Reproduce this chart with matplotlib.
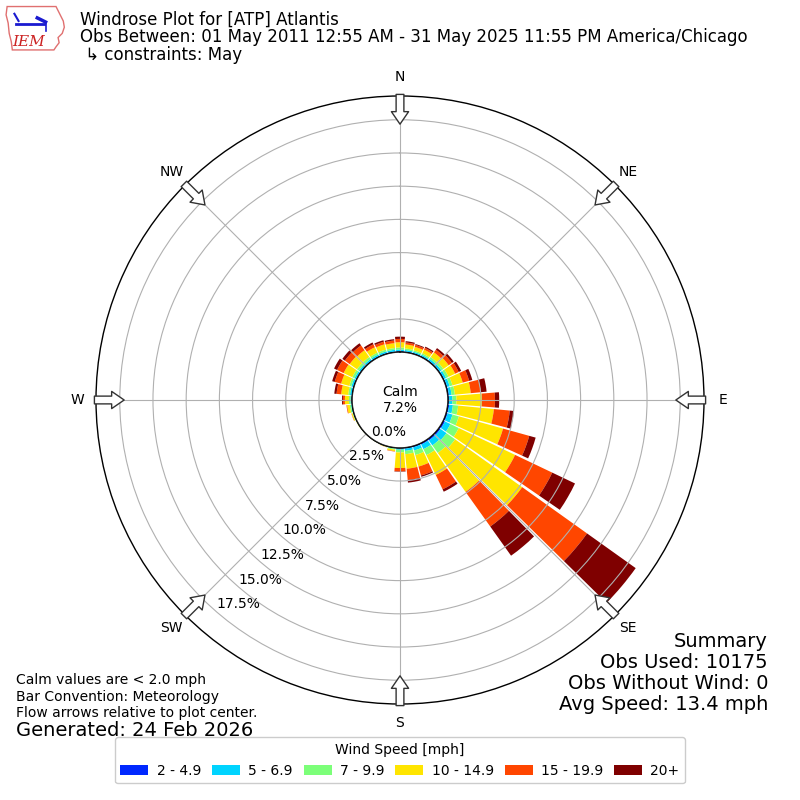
import numpy as np
import matplotlib
matplotlib.use("Agg")
import matplotlib.pyplot as plt
from matplotlib.patches import Circle, FancyArrowPatch, Polygon

# ---------------- data ----------------
directions = np.arange(0, 360, 10)  # degrees, meteorological (from)
speed_labels = ["2 - 4.9", "5 - 6.9", "7 - 9.9", "10 - 14.9", "15 - 19.9", "20+"]
speed_colors = ["#0028ff", "#00d4ff", "#7cff79", "#ffe500", "#ff4600", "#7f0000"]

# percent of observations per direction bin for each speed class
pct_2_5 = [.08, .07, .07, .07, .08, .08, .08, .09, .10, .10, .12, .12, .15, .15, .15, .12, .10, .08,
           .05, .03, .02, .01, .01, .01, .01, .02, .04, .05, .06, .06, .07, .07, .07, .07, .07, .07]
pct_5_7 = [.12, .11, .10, .11, .14, .16, .17, .19, .20, .25, .28, .38, .45, .55, .45, .38, .25, .17,
           .10, .05, .02, .01, .01, .01, .02, .04, .06, .08, .12, .14, .13, .13, .13, .13, .13, .13]
pct_7_10 = [.15, .12, .11, .12, .16, .18, .20, .22, .25, .30, .40, .50, .70, .80, .70, .50, .35, .25,
            .20, .07, .03, .02, .01, .02, .03, .05, .10, .12, .14, .16, .18, .18, .18, .15, .14, .13]
pct_10_15 = [.40, .30, .27, .30, .42, .48, .55, .80, 1.20, 1.92, 2.70, 3.45, 4.70, 6.20, 3.60, 1.65, .90, 1.10,
             1.17, .12, .02, .01, .01, .01, .02, .07, .20, .30, .53, .64, .72, .67, .62, .45, .41, .37]
pct_15_20 = [.25, .15, .15, .15, .25, .30, .30, .50, .75, .98, 1.20, 2.05, 3.10, 6.00, 3.20, 1.20, .70, .85,
             .25, .03, .01, .00, .00, .00, .00, .02, .05, .15, .35, .50, .55, .45, .45, .25, .20, .20]
pct_20p = [.17, .10, .07, .10, .15, .17, .20, .25, .45, .32, .30, .50, 1.90, 4.50, 2.70, .20, .10, .20,
           .03, .00, .00, .00, .00, .00, .00, .00, .00, .07, .17, .20, .25, .23, .20, .15, .12, .10]

calm_pct = 7.2
ring_values = [0.0, 2.5, 5.0, 7.5, 10.0, 12.5, 15.0, 17.5]
compass_labels = ["N", "NE", "E", "SE", "S", "SW", "W", "NW"]
compass_angles = [0, 45, 90, 135, 180, 225, 270, 315]

title_lines = ["Windrose Plot for [ATP] Atlantis",
               "Obs Between: 01 May 2011 12:55 AM - 31 May 2025 11:55 PM America/Chicago",
               " \u21b3 constraints: May"]
left_notes = ["Calm values are < 2.0 mph", "Bar Convention: Meteorology",
              "Flow arrows relative to plot center."]
generated = "Generated: 24 Feb 2026"
summary = "Summary\nObs Used: 10175\nObs Without Wind: 0\nAvg Speed: 13.4 mph"

# ---------------- figure ----------------
fig = plt.figure(figsize=(8, 8), dpi=100)
ax = fig.add_axes([0.12, 0.12, 0.76, 0.76], projection="polar")
ax.set_theta_zero_location("N")
ax.set_theta_direction(-1)

rmax = 19.29
ax.set_ylim(0, rmax)
ax.set_rorigin(-3.6)

series = [pct_2_5, pct_5_7, pct_7_10, pct_10_15, pct_15_20, pct_20p]
theta = np.deg2rad(directions)
width = np.deg2rad(10) * 0.9
bottom = np.zeros(len(directions))
for vals, col, lab in zip(series, speed_colors, speed_labels):
    vals = np.asarray(vals)
    ax.bar(theta, vals, width=width, bottom=bottom, color=col, edgecolor="none",
           label=lab, zorder=1)
    bottom = bottom + vals

ax.set_xticks(np.deg2rad(compass_angles))
ax.set_xticklabels(compass_labels, fontsize=10)
ax.tick_params(axis="x", pad=3)
ax.set_yticks(ring_values)
ax.set_yticklabels([])
ax.grid(True, color="#b0b0b0", linewidth=0.8)
ax.spines["polar"].set_linewidth(1.0)

# calm circle
calm_r = 3.6 / (rmax + 3.6) * 0.5
ax.add_patch(Circle((0.5, 0.5), calm_r, transform=ax.transAxes, facecolor="white",
                    edgecolor="black", linewidth=1.2, zorder=3))
ax.text(0.5, 0.5, "Calm\n%.1f%%" % calm_pct, transform=ax.transAxes, ha="center",
        va="center", fontsize=10, zorder=5, multialignment="center")

# ring labels
for rv in ring_values:
    ax.text(np.deg2rad(222), rv - 0.4, "%.1f%%" % rv, ha="left", va="center",
            fontsize=10, zorder=5)

# flow arrows
for ang in compass_angles:
    a = FancyArrowPatch((np.deg2rad(ang), rmax + 0.12), (np.deg2rad(ang), rmax - 2.12),
                        arrowstyle="simple,head_length=0.45,head_width=0.62,tail_width=0.28",
                        mutation_scale=20, facecolor="white", edgecolor="#333333",
                        linewidth=1.0, shrinkA=0, shrinkB=0, transform=ax.transData,
                        clip_on=False, zorder=6)
    ax.add_patch(a)

# legend
leg = fig.legend(loc="lower center", bbox_to_anchor=(0.5, 0.012), ncol=6, fontsize=10,
                 title="Wind Speed [mph]", title_fontsize=10, handlelength=2.0,
                 handleheight=0.7, handletextpad=0.6, columnspacing=0.8, framealpha=1.0)

# titles
for i, line in enumerate(title_lines):
    fig.text(0.1, 1 - (20 + i * 17.5) / 800, line, fontsize=12, ha="left", va="center")

for i, line in enumerate(left_notes):
    fig.text(0.02, 1 - (680 + i * 16.5) / 800, line, fontsize=10, ha="left", va="center")
fig.text(0.02, 1 - 730 / 800, generated, fontsize=14, ha="left", va="center")
fig.text(0.96, 1 - 673 / 800, summary, fontsize=14, ha="right", va="center",
         multialignment="right", linespacing=1.15)

# simple IEM logo
lax = fig.add_axes([0.005, 0.935, 0.078, 0.062])
lax.set_xlim(0, 60)
lax.set_ylim(0, 48)
lax.axis("off")
iowa = [(3, 44), (50, 44), (52, 40), (54, 36), (57, 30), (58, 24), (56, 18), (52, 14), (53, 9),
        (50, 5), (48, 2), (8, 2), (7, 10), (5, 18), (4, 28), (2, 36)]
lax.add_patch(Polygon(iowa, closed=True, facecolor="white", edgecolor="#e07070", linewidth=1.0))
lax.plot([12, 38], [27, 27], color="#1a1ad0", linewidth=2)
lax.plot([10, 14], [37, 30], color="#1a1ad0", linewidth=1.5)
lax.plot([32, 40], [33, 29], color="#1a1ad0", linewidth=2.5)
lax.plot([40, 40], [27, 20], color="#1a1ad0", linewidth=1.2)
lax.text(24, 10, "IEM", color="#cc2222", fontsize=11, family="DejaVu Serif",
         style="italic", ha="center", va="center")

fig.savefig("out.png", dpi=100)
